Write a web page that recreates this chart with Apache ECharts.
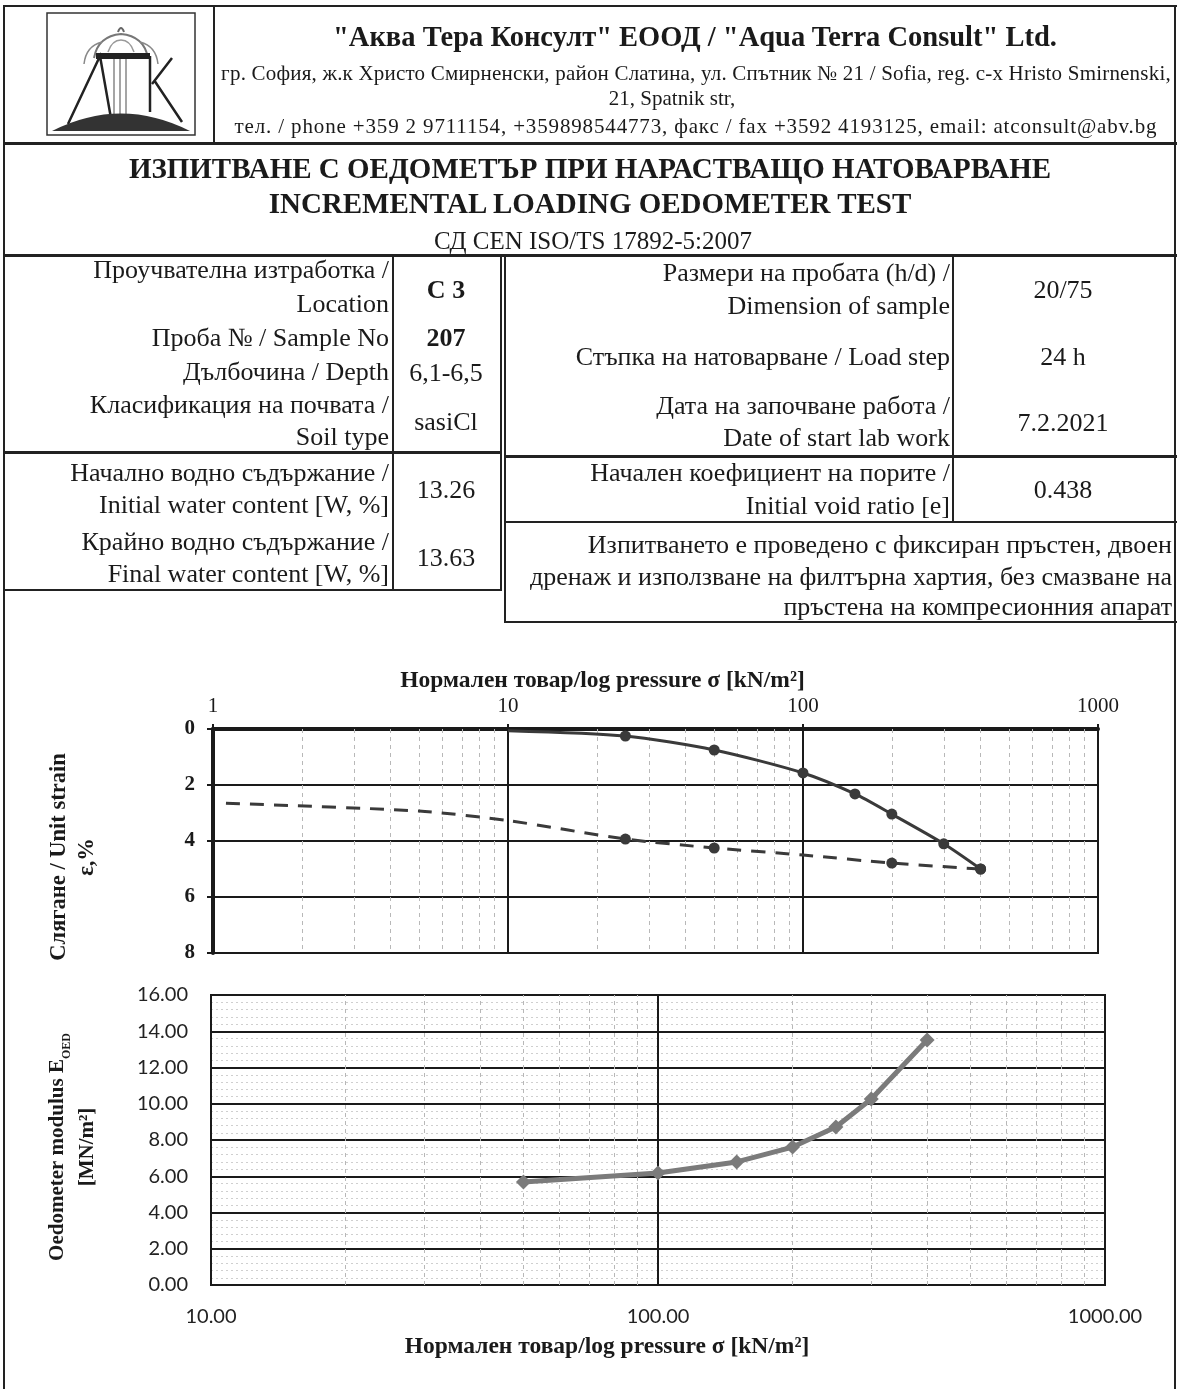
<!DOCTYPE html>
<html>
<head>
<meta charset="utf-8">
<script src="https://cdn.jsdelivr.net/npm/echarts@6/dist/echarts.min.js"></script>
<style>
  html, body { margin: 0; padding: 0; background: #fff; }
  #page { position: relative; width: 1177px; height: 1389px; background: #fff; overflow: hidden; }
  #chart { position: absolute; left: 0; top: 0; width: 1177px; height: 1389px; }
  #sheet { position: absolute; left: 0; top: 0; width: 1177px; height: 1389px; pointer-events: none;
           font-family: 'Liberation Serif', 'DejaVu Serif', serif; color: #1a1a1a; }
  .t { position: absolute; white-space: nowrap; line-height: 1; }
  .r { transform: translateY(-50%); }
  .c { transform: translate(-50%, -50%); }
  .b { font-weight: bold; }
  .h { position: absolute; height: 2px; background: #222; }
  .v { position: absolute; width: 2px; background: #222; }
  .lab { font-size: 26px; }
</style>
</head>
<body>
<div id="page">
  <div id="chart"></div>
  <div id="sheet">
    <!-- frame -->
    <div class="h" style="left:3px;top:5px;width:1174px"></div>
    <div class="v" style="left:3px;top:5px;height:1384px"></div>
    <div class="v" style="left:1174px;top:5px;height:1384px"></div>
    <div class="v" style="left:213px;top:5px;height:138px"></div>
    <div class="h" style="left:3px;top:142px;width:1174px;height:3px"></div>
    <div class="h" style="left:3px;top:254px;width:1174px;height:3px"></div>

    <!-- left block -->
    <div class="v" style="left:392px;top:255px;height:336px"></div>
    <div class="v" style="left:500px;top:255px;height:336px"></div>
    <div class="h" style="left:3px;top:451px;width:499px;height:3px"></div>
    <div class="h" style="left:3px;top:589px;width:499px"></div>

    <!-- right block -->
    <div class="v" style="left:504px;top:255px;height:368px"></div>
    <div class="v" style="left:952px;top:255px;height:268px"></div>
    <div class="h" style="left:504px;top:455px;width:673px;height:3px"></div>
    <div class="h" style="left:504px;top:521px;width:673px"></div>
    <div class="h" style="left:504px;top:621px;width:673px"></div>

    <!-- logo -->
    <svg style="position:absolute;left:46px;top:12px" width="150" height="124" viewBox="0 0 150 124">
      <rect x="1" y="1" width="148" height="122" fill="none" stroke="#333" stroke-width="1.5"/>
      <path d="M48 46 Q52 24 75 22 Q98 24 102 46" fill="none" stroke="#777" stroke-width="2"/>
      <path d="M38 52 Q40 34 56 30" fill="none" stroke="#888" stroke-width="1.5"/>
      <path d="M112 52 Q110 34 94 30" fill="none" stroke="#888" stroke-width="1.5"/>
      <path d="M62 40 Q66 28 75 28 Q84 28 88 40" fill="none" stroke="#999" stroke-width="1.5"/>
      <path d="M72 20 Q75 12 78 20" fill="none" stroke="#666" stroke-width="2"/>
      <path d="M22 112 L54 44 L66 112" fill="none" stroke="#222" stroke-width="2.5"/>
      <path d="M50 44 L104 44" stroke="#222" stroke-width="6"/>
      <path d="M68 47 L68 104 M74 47 L74 104 M80 47 L80 104" stroke="#888" stroke-width="1.5"/>
      <path d="M104 44 L104 100" stroke="#222" stroke-width="2.5"/>
      <path d="M106 72 L126 46 M108 68 L136 110" fill="none" stroke="#222" stroke-width="2.5"/>
      <path d="M6 119 Q75 84 144 119 Z" fill="#333"/>
    </svg>

    <!-- header text -->
    <div class="t c b" style="left:695px;top:37px;font-size:28.5px">"Аква Тера Консулт" ЕООД / "Aqua Terra Consult" Ltd.</div>
    <div class="t c" style="left:696px;top:73px;font-size:21px;letter-spacing:0.2px">гр. София, ж.к Христо Смирненски, район Слатина, ул. Спътник № 21 / Sofia, reg. c-x Hristo Smirnenski,</div>
    <div class="t c" style="left:672px;top:98px;font-size:21px">21, Spatnik str,</div>
    <div class="t c" style="left:696px;top:126px;font-size:21px;letter-spacing:0.85px">тел. / phone +359 2 9711154, +359898544773, факс / fax +3592 4193125, email: atconsult@abv.bg</div>

    <div class="t c b" style="left:590px;top:168px;font-size:29px">ИЗПИТВАНЕ С ОЕДОМЕТЪР ПРИ НАРАСТВАЩО НАТОВАРВАНЕ</div>
    <div class="t c b" style="left:590px;top:203px;font-size:29px">INCREMENTAL LOADING OEDOMETER TEST</div>
    <div class="t c" style="left:593px;top:240px;font-size:25px">СД CEN ISO/TS 17892-5:2007</div>

    <!-- left table labels -->
    <div class="t r lab" style="right:788px;top:270px">Проучвателна изтработка /</div>
    <div class="t r lab" style="right:788px;top:304px">Location</div>
    <div class="t r lab" style="right:788px;top:338px">Проба № / Sample No</div>
    <div class="t r lab" style="right:788px;top:372px">Дълбочина / Depth</div>
    <div class="t r lab" style="right:788px;top:405px">Класификация на почвата /</div>
    <div class="t r lab" style="right:788px;top:437px">Soil type</div>
    <div class="t r lab" style="right:788px;top:473px">Начално водно съдържание /</div>
    <div class="t r lab" style="right:788px;top:505px">Initial water content [W, %]</div>
    <div class="t r lab" style="right:788px;top:542px">Крайно водно съдържание /</div>
    <div class="t r lab" style="right:788px;top:574px">Final water content [W, %]</div>

    <div class="t c lab b" style="left:446px;top:290px">C 3</div>
    <div class="t c lab b" style="left:446px;top:338px">207</div>
    <div class="t c lab" style="left:446px;top:373px">6,1-6,5</div>
    <div class="t c lab" style="left:446px;top:422px">sasiCl</div>
    <div class="t c lab" style="left:446px;top:490px">13.26</div>
    <div class="t c lab" style="left:446px;top:558px">13.63</div>

    <!-- right table labels -->
    <div class="t r lab" style="right:227px;top:273px">Размери на пробата (h/d) /</div>
    <div class="t r lab" style="right:227px;top:306px">Dimension of sample</div>
    <div class="t r lab" style="right:227px;top:357px">Стъпка на натоварване / Load step</div>
    <div class="t r lab" style="right:227px;top:406px">Дата на започване работа /</div>
    <div class="t r lab" style="right:227px;top:438px">Date of start lab work</div>
    <div class="t r lab" style="right:227px;top:473px">Начален коефициент на порите /</div>
    <div class="t r lab" style="right:227px;top:506px">Initial void ratio [e]</div>

    <div class="t c lab" style="left:1063px;top:290px">20/75</div>
    <div class="t c lab" style="left:1063px;top:357px">24 h</div>
    <div class="t c lab" style="left:1063px;top:423px">7.2.2021</div>
    <div class="t c lab" style="left:1063px;top:490px">0.438</div>

    <div class="t r lab" style="right:5px;top:545px">Изпитването е проведено с фиксиран пръстен, двоен</div>
    <div class="t r lab" style="right:5px;top:577px">дренаж и използване на филтърна хартия, без смазване на</div>
    <div class="t r lab" style="right:5px;top:607px">пръстена на компресионния апарат</div>
  </div>
</div>

<script>
// натоварване (loading)
const loadP = [10, 25, 50, 100, 150, 200, 300, 400];
const loadStrain = [0.06, 0.25, 0.75, 1.57, 2.32, 3.04, 4.1, 5.0];
const loadMarked = [25, 50, 100, 150, 200, 300, 400];

// разтоварване (unloading)
const unloadP = [400, 200, 100, 50, 25, 10, 5, 1.1];
const unloadStrain = [5.0, 4.79, 4.5, 4.25, 3.93, 3.27, 2.93, 2.65];
const unloadMarked = [400, 200, 50, 25];

// oedometer modulus
const eoedP = [50, 100, 150, 200, 250, 300, 400];
const eoedVal = [5.68, 6.18, 6.79, 7.61, 8.72, 10.26, 13.52];

// axes
const strainTicks = [0, 2, 4, 6, 8];
const eoedTicks = [0, 2, 4, 6, 8, 10, 12, 14, 16];
const topPressureRange = [1, 1000];
const bottomPressureRange = [10, 1000];
const minorTop = [2, 3, 4, 5, 6, 7, 8, 9, 20, 30, 40, 50, 60, 70, 80, 90, 200, 300, 400, 500, 600, 700, 800, 900];
const minorBottom = [20, 30, 40, 50, 60, 70, 80, 90, 200, 300, 400, 500, 600, 700, 800, 900];

const serif = "'Liberation Serif', 'DejaVu Serif', serif";
const pressureName = 'Нормален товар/log pressure σ [kN/m²]';

const chart = echarts.init(document.getElementById('chart'), null, { renderer: 'canvas' });

const minorLines = (values, axisIdx) => ({
  type: 'line',
  xAxisIndex: axisIdx,
  yAxisIndex: axisIdx,
  data: [],
  silent: true,
  z: 1,
  markLine: {
    silent: true,
    symbol: ['none', 'none'],
    label: { show: false },
    lineStyle: { color: '#b8b8b8', type: [4, 4], width: 1 },
    data: values.map(v => ({ xAxis: v }))
  }
})

const option = {
  animation: false,
  grid: [
    { left: 213, top: 729, width: 885, height: 224, show: true, borderColor: '#1a1a1a', borderWidth: 2 },
    { left: 211, top: 995, width: 894, height: 290, show: true, borderColor: '#1a1a1a', borderWidth: 2 }
  ],
  xAxis: [
    {
      gridIndex: 0,
      type: 'log',
      logBase: 10,
      position: 'top',
      min: topPressureRange[0],
      max: topPressureRange[1],
      name: pressureName,
      nameLocation: 'middle',
      nameGap: 36,
      nameTextStyle: { fontFamily: serif, fontWeight: 'bold', fontSize: 23.5, color: '#1a1a1a', padding: [0, 106, 0, 0] },
      axisLine: { show: true, lineStyle: { color: '#1a1a1a', width: 4 } },
      axisTick: { show: true, length: 5, lineStyle: { color: '#1a1a1a', width: 2 } },
      axisLabel: { fontFamily: serif, fontSize: 21, color: '#1a1a1a', margin: 12, formatter: v => String(v) },
      splitLine: { show: true, lineStyle: { color: '#1a1a1a', width: 2 } }
    },
    {
      gridIndex: 1,
      type: 'log',
      logBase: 10,
      min: bottomPressureRange[0],
      max: bottomPressureRange[1],
      name: pressureName,
      nameLocation: 'middle',
      nameGap: 50,
      nameTextStyle: { fontFamily: serif, fontWeight: 'bold', fontSize: 23.5, color: '#1a1a1a', padding: [0, 102, 0, 0] },
      axisLine: { show: true, lineStyle: { color: '#1a1a1a', width: 2 } },
      axisTick: { show: false },
      axisLabel: { fontFamily: 'Lato, sans-serif', fontSize: 20, color: '#222', margin: 22, formatter: v => Number(v).toFixed(2) },
      splitLine: { show: true, lineStyle: { color: '#1a1a1a', width: 2 } }
    }
  ],
  yAxis: [
    {
      gridIndex: 0,
      type: 'value',
      inverse: true,
      min: strainTicks[0],
      max: strainTicks[strainTicks.length - 1],
      interval: 2,
      name: 'Слягане / Unit strain\nε,%',
      nameLocation: 'middle',
      nameGap: 112,
      nameTextStyle: { fontFamily: serif, fontWeight: 'bold', fontSize: 22.5, color: '#1a1a1a', lineHeight: 28, padding: [0, 32, 0, 0] },
      axisLine: { show: true, lineStyle: { color: '#1a1a1a', width: 4 } },
      axisTick: { show: true, length: 6, lineStyle: { color: '#1a1a1a', width: 2 } },
      axisLabel: { fontFamily: serif, fontWeight: 'bold', fontSize: 21, color: '#1a1a1a', margin: 18 },
      splitLine: { show: true, lineStyle: { color: '#1a1a1a', width: 2 } }
    },
    {
      gridIndex: 1,
      type: 'value',
      min: eoedTicks[0],
      max: eoedTicks[eoedTicks.length - 1],
      interval: 2,
      name: '{a|Oedometer modulus E}{s|OED}\n{a|[MN/m²]}',
      nameLocation: 'middle',
      nameGap: 108,
      nameTextStyle: {
        color: '#1a1a1a',
        padding: [0, 14, 0, 0],
        rich: {
          a: { fontFamily: serif, fontWeight: 'bold', fontSize: 21, color: '#1a1a1a', lineHeight: 30 },
          s: { fontFamily: serif, fontWeight: 'bold', fontSize: 12, color: '#1a1a1a', lineHeight: 30, verticalAlign: 'bottom' }
        }
      },
      axisLine: { show: true, lineStyle: { color: '#1a1a1a', width: 2 } },
      axisTick: { show: false },
      axisLabel: { fontFamily: 'Lato, sans-serif', fontSize: 20, color: '#222', margin: 23, formatter: v => Number(v).toFixed(2) },
      splitLine: { show: true, lineStyle: { color: '#1a1a1a', width: 2 } },
      minorTick: { show: false, splitNumber: 5 },
      minorSplitLine: { show: true, lineStyle: { color: '#cfcfcf', type: [2, 3], width: 1 } }
    }
  ],
  series: [
    minorLines(minorTop, 0),
    minorLines(minorBottom, 1),
    {
      name: 'loading',
      type: 'line',
      xAxisIndex: 0,
      yAxisIndex: 0,
      z: 5,
      smooth: 0.25,
      symbol: 'circle',
      symbolSize: v => (loadMarked.includes(v[0]) ? 11 : 0),
      lineStyle: { color: '#3a3a3a', width: 3 },
      itemStyle: { color: '#3a3a3a' },
      data: loadP.map((p, i) => [p, loadStrain[i]])
    },
    {
      name: 'unloading',
      type: 'line',
      xAxisIndex: 0,
      yAxisIndex: 0,
      z: 5,
      smooth: 0.25,
      symbol: 'circle',
      symbolSize: v => (unloadMarked.includes(v[0]) ? 11 : 0),
      lineStyle: { color: '#3a3a3a', width: 3, type: [14, 10] },
      itemStyle: { color: '#3a3a3a' },
      data: unloadP.map((p, i) => [p, unloadStrain[i]])
    },
    {
      name: 'Eoed',
      type: 'line',
      xAxisIndex: 1,
      yAxisIndex: 1,
      z: 5,
      symbol: 'diamond',
      symbolSize: 15,
      lineStyle: { color: '#7b7b7b', width: 5 },
      itemStyle: { color: '#7b7b7b' },
      data: eoedP.map((p, i) => [p, eoedVal[i]])
    }
  ]
}

chart.setOption(option);
</script>
</body>
</html>
